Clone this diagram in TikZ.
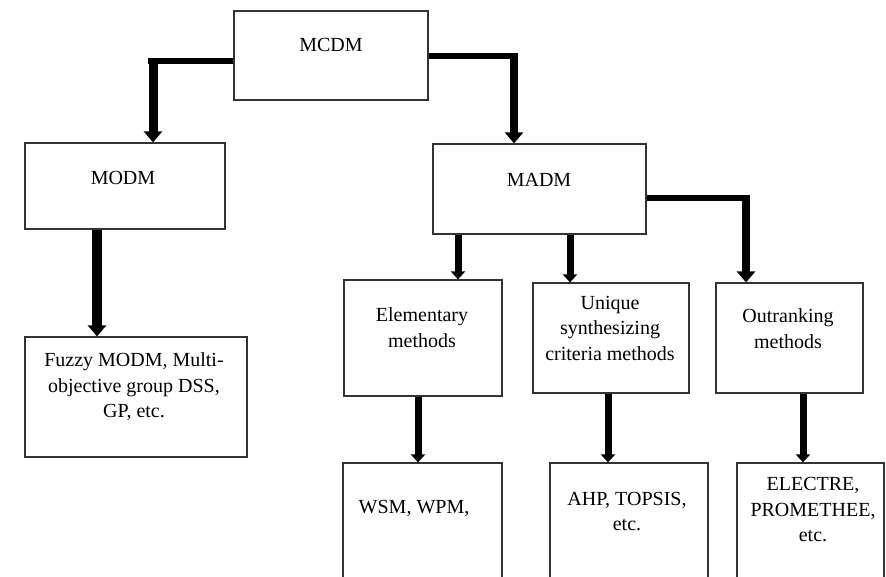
\documentclass[tikz,border=0pt]{standalone}
\usepackage{fontspec}
\setmainfont{Liberation Serif}
\usetikzlibrary{arrows.meta}
\tikzset{
  box/.style={draw=black!80, line width=1.2pt, minimum width=#1, inner sep=0pt},
  txt/.style={align=center, inner sep=0pt, font=\fontsize{20}{25.5}\selectfont},
  hseg/.style={line width=5.5pt, line cap=butt},
  bigarrow/.style={line width=#1, -{Triangle[width=18pt,length=11pt]}},
  smallarrow/.style={line width=7pt, -{Triangle[width=14pt,length=8pt]}}
}
\begin{document}
\begin{tikzpicture}[x=1pt,y=-1pt]
\useasboundingbox (0,0) rectangle (886,577);
\clip (0,0) rectangle (886,577);
% boxes
\node[box=194pt, minimum height=89pt] (mcdm) at (331,55.5) {};
\node[box=200pt, minimum height=86pt] (modm) at (125,186) {};
\node[box=213pt, minimum height=90pt] (madm) at (539.5,189) {};
\node[box=222pt, minimum height=120pt] (fuzzy) at (136,397) {};
\node[box=158pt, minimum height=116pt] (elem) at (423,338) {};
\node[box=156pt, minimum height=110pt] (uniq) at (611,338) {};
\node[box=147pt, minimum height=110pt] (outr) at (789.5,338) {};
\node[box=159pt, minimum height=137pt] (wsm) at (422.5,531.5) {};
\node[box=158pt, minimum height=137pt] (ahp) at (629,531.5) {};
\node[box=147pt, minimum height=137pt] (elec) at (810.5,531.5) {};
% texts
\node[txt] (mcdmT) at (331,45) {MCDM};
\node[txt] (modmT) at (123,178) {MODM};
\node[txt] (madmT) at (539,180) {MADM};
\node[txt] (fuzzyT) at (134,387) {Fuzzy MODM, Multi-\\objective group DSS,\\GP, etc.};
\node[txt] (elemT) at (422,327.5) {Elementary\\methods};
\node[txt] (uniqT) at (610,328) {Unique\\synthesizing\\criteria methods};
\node[txt] (outrT) at (788,328.5) {Outranking\\methods};
\node[txt] (wsmT) at (414,508) {WSM, WPM,};
\node[txt] (ahpT) at (627,511.5) {AHP, TOPSIS,\\etc.};
\node[txt] (elecT) at (813,510) {ELECTRE,\\PROMETHEE,\\etc.};
% corner coordinates
\coordinate (c1) at (153,61);
\coordinate (c2) at (514,56);
\coordinate (c3) at (746,198);
% MCDM -> MODM
\draw[hseg] (mcdm.west |- c1) -- ([xshift=-5pt]c1);
\draw[bigarrow=9pt] ([yshift=2.7pt]c1) -- (c1 |- modm.north);
% MCDM -> MADM
\draw[hseg] (mcdm.east |- c2) -- ([xshift=4pt]c2);
\draw[bigarrow=8pt] ([yshift=2.7pt]c2) -- (c2 |- madm.north);
% MADM -> Outranking
\draw[hseg] (madm.east |- c3) -- ([xshift=4pt]c3);
\draw[bigarrow=8pt] ([yshift=2.7pt]c3) -- (c3 |- outr.north);
% MODM -> Fuzzy
\draw[bigarrow=10pt] ([xshift=-28pt]modm.south) -- ([xshift=-28pt]modm.south |- fuzzy.north);
% MADM -> Elementary, Unique
\draw[smallarrow] ([xshift=-81.5pt]madm.south) -- ([xshift=-81.5pt]madm.south |- elem.north);
\draw[smallarrow] ([xshift=30.5pt]madm.south) -- ([xshift=30.5pt]madm.south |- uniq.north);
% second level -> third level
\draw[smallarrow] ([xshift=-5pt]elem.south) -- ([xshift=-5pt]elem.south |- wsm.north);
\draw[smallarrow] ([xshift=-3pt]uniq.south) -- ([xshift=-3pt]uniq.south |- ahp.north);
\draw[smallarrow] ([xshift=13.5pt]outr.south) -- ([xshift=13.5pt]outr.south |- elec.north);
\end{tikzpicture}
\end{document}
